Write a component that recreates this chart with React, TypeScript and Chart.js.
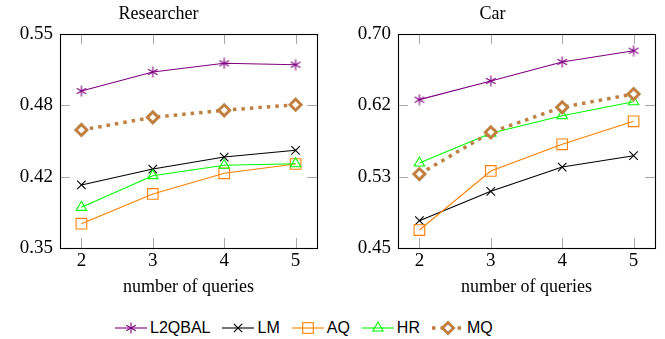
import React, { useEffect, useRef } from 'react';
import { Chart, registerables } from 'chart.js';
Chart.register(...registerables);

const SERIF = '"Liberation Serif", "Times New Roman", serif';
const SANS = '"Liberation Sans", Arial, sans-serif';
Chart.defaults.font.family = SERIF;
Chart.defaults.color = '#000';

const queries = [2, 3, 4, 5];
const seriesNames = ['L2QBAL', 'LM', 'AQ', 'HR', 'MQ'];

const researcherL2QBAL = [0.4967, 0.5145, 0.5226, 0.5213];
const researcherLM = [0.4089, 0.4238, 0.435, 0.4413];
const researcherAQ = [0.3727, 0.4005, 0.4198, 0.4285];
const researcherHR = [0.388, 0.4176, 0.4273, 0.4288];
const researcherMQ = [0.4603, 0.4721, 0.4787, 0.4839];

const carL2QBAL = [0.6233, 0.6451, 0.6673, 0.6805];
const carLM = [0.4819, 0.5162, 0.5446, 0.5578];
const carAQ = [0.471, 0.54, 0.5711, 0.598];
const carHR = [0.5493, 0.584, 0.6046, 0.6209];
const carMQ = [0.5364, 0.5852, 0.6144, 0.6299];

const xTicks = [2, 3, 4, 5];
const researcherYTicks = [0.35, 0.41667, 0.48333, 0.55];
const researcherYTickLabels = ['0.35', '0.42', '0.48', '0.55'];
const carYTicks = [0.45, 0.53333, 0.61667, 0.7];
const carYTickLabels = ['0.45', '0.53', '0.62', '0.70'];

const COLORS = ['#800080', '#000000', '#ff8000', '#00ff00', '#bf8040'];

function makeAsterisk(color: string, size: number) {
  const c = document.createElement('canvas');
  c.width = size;
  c.height = size;
  const g = c.getContext('2d')!;
  g.strokeStyle = color;
  g.lineWidth = 1.1;
  const cx = size / 2;
  const cy = size / 2;
  const r = size / 2 - 0.5;
  g.beginPath();
  for (let k = 0; k < 3; k++) {
    const a = Math.PI / 2 + (k * Math.PI) / 3;
    g.moveTo(cx + r * Math.cos(a), cy - r * Math.sin(a));
    g.lineTo(cx - r * Math.cos(a), cy + r * Math.sin(a));
  }
  g.stroke();
  return c;
}

const pgfFrame = {
  id: 'pgfFrame',
  beforeDatasetsDraw(chart: any) {
    const { ctx, chartArea } = chart;
    const { left, right, top, bottom } = chartArea;
    const xs = chart.scales.x;
    const ys = chart.scales.y;
    const L = 10;
    ctx.save();
    ctx.strokeStyle = '#a8a8a8';
    ctx.lineWidth = 1;
    ctx.beginPath();
    xs.ticks.forEach((t: any) => {
      const px = Math.round(xs.getPixelForValue(t.value)) + 0.5;
      ctx.moveTo(px, bottom);
      ctx.lineTo(px, bottom - L);
      ctx.moveTo(px, top);
      ctx.lineTo(px, top + L);
    });
    ys.ticks.forEach((t: any) => {
      const py = Math.round(ys.getPixelForValue(t.value)) + 0.5;
      ctx.moveTo(left, py);
      ctx.lineTo(left + L, py);
      ctx.moveTo(right, py);
      ctx.lineTo(right - L, py);
    });
    ctx.stroke();
    ctx.strokeStyle = '#000';
    ctx.lineWidth = 1.1;
    ctx.strokeRect(Math.round(left) + 0.5, Math.round(top) + 0.5, Math.round(right - left), Math.round(bottom - top));
    ctx.restore();
  },
};

function buildConfig(
  title: string,
  series: number[][],
  yMin: number,
  yMax: number,
  yTicks: number[],
  yTickLabels: string[],
  yAxisWidth: number,
  padRight: number,
  asterisk: HTMLCanvasElement
): any {
  const styles: any[] = [
    { pointStyle: asterisk, pointRadius: 6, borderWidth: 1.1, pointBorderWidth: 1 },
    { pointStyle: 'crossRot', pointRadius: 6, borderWidth: 1.1, pointBorderWidth: 1.1 },
    { pointStyle: 'rect', pointRadius: 7.5, borderWidth: 1.1, pointBorderWidth: 1.1 },
    { pointStyle: 'triangle', pointRadius: 6, borderWidth: 1.1, pointBorderWidth: 1.1 },
    {
      pointStyle: 'rectRot',
      pointRadius: 5.5,
      borderWidth: 3.5,
      pointBorderWidth: 3,
      borderDash: [3.5, 5],
      borderCapStyle: 'butt',
      pointBackgroundColor: '#ffffff',
    },
  ];
  const tickFont = { family: SERIF, size: 19, weight: 'normal' };
  return {
    type: 'line',
    data: {
      datasets: seriesNames.map((name, i) => ({
        label: name,
        data: queries.map((q, j) => ({ x: q, y: series[i][j] })),
        borderColor: COLORS[i],
        pointBorderColor: COLORS[i],
        pointBackgroundColor: 'rgba(0,0,0,0)',
        backgroundColor: 'rgba(0,0,0,0)',
        fill: false,
        tension: 0,
        order: -i,
        clip: false,
        ...styles[i],
      })),
    },
    options: {
      animation: false,
      responsive: false,
      devicePixelRatio: 1,
      events: [],
      layout: { padding: { left: 0, right: padRight, top: 0, bottom: 0 } },
      plugins: {
        legend: { display: false },
        tooltip: { enabled: false },
        title: {
          display: true,
          text: title,
          color: '#000',
          font: { family: SERIF, size: 18, weight: 'normal' },
          padding: { top: 3, bottom: 9.4 },
        },
      },
      scales: {
        x: {
          type: 'linear',
          min: 1.7,
          max: 5.3,
          afterBuildTicks: (s: any) => {
            s.ticks = xTicks.map((v) => ({ value: v }));
          },
          afterFit: (s: any) => {
            s.height = 52;
          },
          grid: { display: false, drawTicks: false },
          border: { display: false },
          ticks: {
            color: '#000',
            font: tickFont,
            padding: 2,
            maxRotation: 0,
            autoSkip: false,
            callback: (v: any) => String(v),
          },
          title: {
            display: true,
            text: 'number of queries',
            color: '#000',
            font: { family: SERIF, size: 18, weight: 'normal' },
            padding: { top: 0, bottom: 2 },
          },
        },
        y: {
          type: 'linear',
          min: yMin,
          max: yMax,
          afterBuildTicks: (s: any) => {
            s.ticks = yTicks.map((v) => ({ value: v }));
          },
          afterFit: (s: any) => {
            s.width = yAxisWidth;
          },
          grid: { display: false, drawTicks: false },
          border: { display: false },
          ticks: {
            color: '#000',
            font: tickFont,
            padding: 7,
            autoSkip: false,
            callback: (_v: any, i: number) => yTickLabels[i],
          },
        },
      },
    },
    plugins: [pgfFrame],
  };
}

function LegendSample({ index }: { index: number }) {
  const c = COLORS[index];
  const line =
    index === 4 ? (
      <line x1={0} y1={8} x2={32} y2={8} stroke={c} strokeWidth={3.5} strokeDasharray="3.5 5" />
    ) : (
      <line x1={0} y1={8} x2={32} y2={8} stroke={c} strokeWidth={1.1} />
    );
  let marker: any = null;
  if (index === 0) {
    const r = 5.5;
    marker = (
      <g stroke={c} strokeWidth={1.1}>
        {[0, 1, 2].map((k) => {
          const a = Math.PI / 2 + (k * Math.PI) / 3;
          return (
            <line
              key={k}
              x1={16 + r * Math.cos(a)}
              y1={8 - r * Math.sin(a)}
              x2={16 - r * Math.cos(a)}
              y2={8 + r * Math.sin(a)}
            />
          );
        })}
      </g>
    );
  } else if (index === 1) {
    marker = (
      <g stroke={c} strokeWidth={1.1}>
        <line x1={11.8} y1={3.8} x2={20.2} y2={12.2} />
        <line x1={11.8} y1={12.2} x2={20.2} y2={3.8} />
      </g>
    );
  } else if (index === 2) {
    marker = <rect x={10.7} y={2.7} width={10.6} height={10.6} fill="none" stroke={c} strokeWidth={1.1} />;
  } else if (index === 3) {
    marker = <polygon points="16,2 21.2,11 10.8,11" fill="none" stroke={c} strokeWidth={1.1} />;
  } else {
    marker = <polygon points="16,2.5 21.5,8 16,13.5 10.5,8" fill="#fff" stroke={c} strokeWidth={3} />;
  }
  return (
    <svg width={32} height={16} style={{ display: 'block', marginRight: 3 }}>
      {line}
      {marker}
    </svg>
  );
}

export default function App() {
  const leftRef = useRef<HTMLCanvasElement>(null);
  const rightRef = useRef<HTMLCanvasElement>(null);

  useEffect(() => {
    const star = makeAsterisk(COLORS[0], 12);
    const left = new Chart(
      leftRef.current!,
      buildConfig(
        'Researcher',
        [researcherL2QBAL, researcherLM, researcherAQ, researcherHR, researcherMQ],
        0.35,
        0.55,
        researcherYTicks,
        researcherYTickLabels,
        60,
        13,
        star
      )
    );
    const right = new Chart(
      rightRef.current!,
      buildConfig(
        'Car',
        [carL2QBAL, carLM, carAQ, carHR, carMQ],
        0.45,
        0.7,
        carYTicks,
        carYTickLabels,
        68,
        10,
        star
      )
    );
    return () => {
      left.destroy();
      right.destroy();
    };
  }, []);

  return (
    <div style={{ position: 'fixed', left: 0, top: 0, width: 665, height: 339, background: '#fff', overflow: 'hidden' }}>
      <canvas ref={leftRef} width={330} height={300} style={{ position: 'absolute', left: 0, top: 0, width: 330, height: 300 }} />
      <canvas ref={rightRef} width={335} height={300} style={{ position: 'absolute', left: 330, top: 0, width: 335, height: 300 }} />
      <div
        style={{
          position: 'absolute',
          left: 115,
          top: 318,
          height: 20,
          display: 'flex',
          alignItems: 'center',
          fontFamily: SANS,
          fontSize: 16,
          lineHeight: '20px',
          color: '#000',
          whiteSpace: 'nowrap',
        }}
      >
        {seriesNames.map((name, i) => (
          <div key={name} style={{ display: 'flex', alignItems: 'center', marginRight: i < seriesNames.length - 1 ? 12 : 0 }}>
            <LegendSample index={i} />
            <span>{name}</span>
          </div>
        ))}
      </div>
    </div>
  );
}
